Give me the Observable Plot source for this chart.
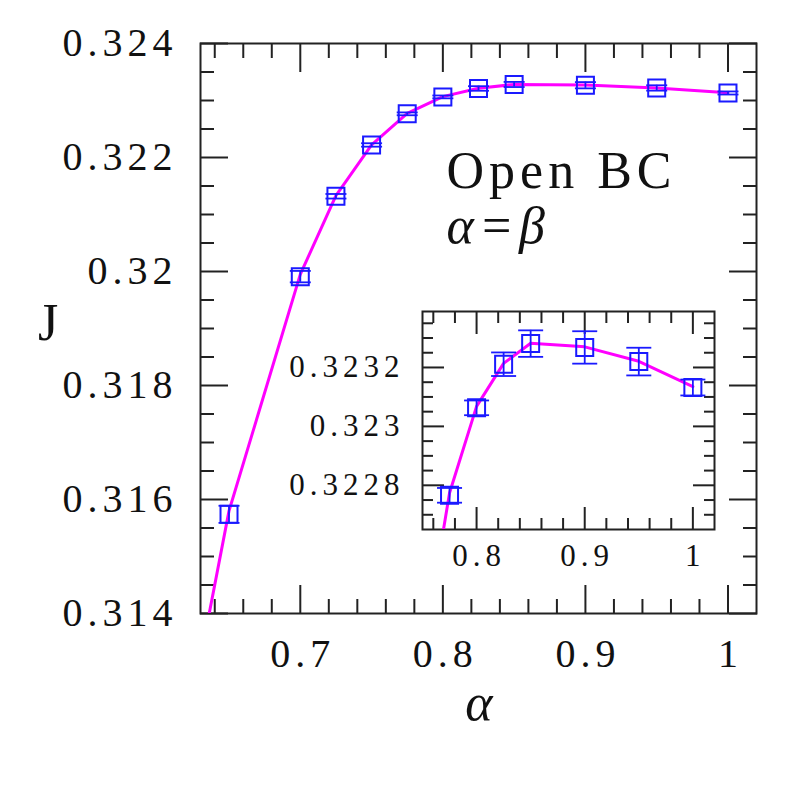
<!DOCTYPE html>
<html><head><meta charset="utf-8">
<script src="https://cdn.jsdelivr.net/npm/d3@7"></script>
<script src="https://cdn.jsdelivr.net/npm/@observablehq/plot@0.6"></script>
<style>
body{margin:0;background:#fff;}
#wrap{position:relative;width:797px;height:797px;overflow:hidden;}
#main{position:absolute;left:0;top:0;}
#inset{position:absolute;left:270px;top:290px;}
</style></head><body><div id="wrap"><div id="main"></div><div id="inset"></div></div>
<script>
// ---- data ----
const alphaVals = [0.65, 0.70, 0.725, 0.75, 0.775, 0.80, 0.825, 0.85, 0.90, 0.95, 1.00];
const Jvals     = [0.31574, 0.31991, 0.32132, 0.32222, 0.322766, 0.323063, 0.323211, 0.323281, 0.323268, 0.32322, 0.323132];
const Jerr      = [0.00015, 0.0001, 0.00004, 0.00003, 0.000025, 0.000025, 0.00004, 0.000045, 0.000055, 0.000047, 0.000027];
const fitAlpha  = [0.625, 0.65, 0.70, 0.725, 0.75, 0.775, 0.80, 0.825, 0.85, 0.90, 0.95, 1.00];
const fitJ      = [0.31256, 0.3158, 0.31995, 0.32133, 0.32222, 0.322774, 0.323068, 0.323214, 0.323282, 0.32327, 0.323221, 0.323135];

const mainXMajor = [0.7, 0.8, 0.9, 1];
const mainXMinor = [0.64, 0.66, 0.68, 0.72, 0.74, 0.76, 0.78, 0.82, 0.84, 0.86, 0.88, 0.92, 0.94, 0.96, 0.98];
const mainYMajor = [0.314, 0.316, 0.318, 0.32, 0.322, 0.324];
const mainYMinor = [0.3145, 0.315, 0.3155, 0.3165, 0.317, 0.3175, 0.3185, 0.319, 0.3195, 0.3205, 0.321, 0.3215, 0.3225, 0.323, 0.3235];
const insetXMajor = [0.8, 0.9, 1];
const insetXMinor = [0.76, 0.78, 0.82, 0.84, 0.86, 0.88, 0.92, 0.94, 0.96, 0.98];
const insetYMajor = [0.3228, 0.323, 0.3232];
const insetYMinor = [0.3227, 0.32275, 0.32285, 0.3229, 0.32295, 0.32305, 0.3231, 0.32315, 0.32325, 0.3233, 0.32335];

const xLabel = "α";
const yLabel = "J";
const note1 = "Open BC";
const note2 = "α=β";

// ---- build ----
const pts = alphaVals.map((a, i) => ({a, j: Jvals[i], lo: Jvals[i] - Jerr[i], hi: Jvals[i] + Jerr[i]}));
const fit = fitAlpha.map((a, i) => ({a, j: fitJ[i]}));

const BLUE = "#1a1aff", MAG = "#ff00ff", INK = "#222";
const capSym = {draw(ctx, size) { const r = Math.sqrt(size / Math.PI); ctx.moveTo(-r, 0); ctx.lineTo(r, 0); }};
const sqSym = {draw(ctx, size) { const r = Math.sqrt(size / Math.PI); ctx.moveTo(-r, -r); ctx.lineTo(r, -r); ctx.lineTo(r, r); ctx.lineTo(-r, r); ctx.closePath(); }};

function tickMarks(xs, ys, len) {
  const o = {stroke: INK, strokeWidth: 2, fill: "none", tickSize: len};
  return [
    Plot.axisX(xs, {...o, anchor: "bottom", dy: -len}),
    Plot.axisX(xs, {...o, anchor: "top", dy: len}),
    Plot.axisY(ys, {...o, anchor: "left", dx: len}),
    Plot.axisY(ys, {...o, anchor: "right", dx: -len})
  ];
}
function dataMarks(capR) {
  return [
    Plot.line(fit, {x: "a", y: "j", stroke: MAG, strokeWidth: 3, clip: true}),
    Plot.ruleX(pts, {x: "a", y1: "lo", y2: "hi", stroke: BLUE, strokeWidth: 1.8, clip: true}),
    Plot.dot(pts, {x: "a", y: "lo", symbol: capSym, r: capR, stroke: BLUE, strokeWidth: 1.8, fill: "none", clip: true}),
    Plot.dot(pts, {x: "a", y: "hi", symbol: capSym, r: capR, stroke: BLUE, strokeWidth: 1.8, fill: "none", clip: true}),
    Plot.dot(pts, {x: "a", y: "j", symbol: sqSym, r: 8.5, stroke: BLUE, strokeWidth: 2, fill: "none", clip: true})
  ];
}
const fmt = d => String(d);
const font = "'Liberation Serif', 'DejaVu Serif', serif";

const mainPlot = Plot.plot({
  width: 797, height: 797,
  marginLeft: 200, marginRight: 41, marginTop: 43, marginBottom: 184,
  x: {domain: [0.63, 1.02]},
  y: {domain: [0.314, 0.324]},
  style: {fontFamily: font, color: "#111", background: "transparent", letterSpacing: "5px"},
  marks: [
    ...tickMarks(mainXMajor, mainYMajor, 28),
    ...tickMarks(mainXMinor, mainYMinor, 14),
    Plot.axisX(mainXMajor, {anchor: "bottom", tickSize: 0, tickPadding: 25, fontSize: 40, tickFormat: fmt, label: null, dx: 2.5, fill: "#111"}),
    Plot.axisY(mainYMajor, {anchor: "left", tickSize: 0, tickPadding: 23, fontSize: 40, tickFormat: fmt, label: null, fill: "#111"}),
    Plot.frame({stroke: INK, strokeWidth: 2}),
    ...dataMarks(10.5),
    Plot.text([yLabel], {text: d => d, frameAnchor: "left", dx: -150, dy: -5, fontSize: 52, textAnchor: "middle", fill: "#111"}),
    Plot.text([xLabel], {text: d => d, frameAnchor: "bottom", dx: 3, dy: 106, fontSize: 52, fontStyle: "italic", textAnchor: "middle", fill: "#111"}),
    Plot.text([note1], {text: d => d, frameAnchor: "top-left", dx: 246, dy: 108, fontSize: 52, textAnchor: "start", lineAnchor: "top", fill: "#111"}),
    Plot.text([note2], {text: d => d, frameAnchor: "top-left", dx: 246, dy: 163, fontSize: 52, fontStyle: "italic", textAnchor: "start", lineAnchor: "top", fill: "#111"})
  ]
});
document.getElementById("main").appendChild(mainPlot);

const insetPlot = Plot.plot({
  width: 454, height: 289,
  marginLeft: 152, marginRight: 10, marginTop: 21, marginBottom: 50,
  x: {domain: [0.75, 1.02]},
  y: {domain: [0.32265, 0.32339]},
  style: {fontFamily: font, color: "#111", background: "transparent", letterSpacing: "5px"},
  marks: [
    ...tickMarks(insetXMajor, insetYMajor, 22),
    ...tickMarks(insetXMinor, insetYMinor, 11),
    Plot.axisX(insetXMajor, {anchor: "bottom", tickSize: 0, tickPadding: 14, fontSize: 31, tickFormat: fmt, label: null, dx: 2.5, fill: "#111"}),
    Plot.axisY(insetYMajor, {anchor: "left", tickSize: 0, tickPadding: 18, fontSize: 31, tickFormat: fmt, label: null, fill: "#111"}),
    Plot.frame({stroke: INK, strokeWidth: 2}),
    ...dataMarks(12.5)
  ]
});
document.getElementById("inset").appendChild(insetPlot);
</script></body></html>
